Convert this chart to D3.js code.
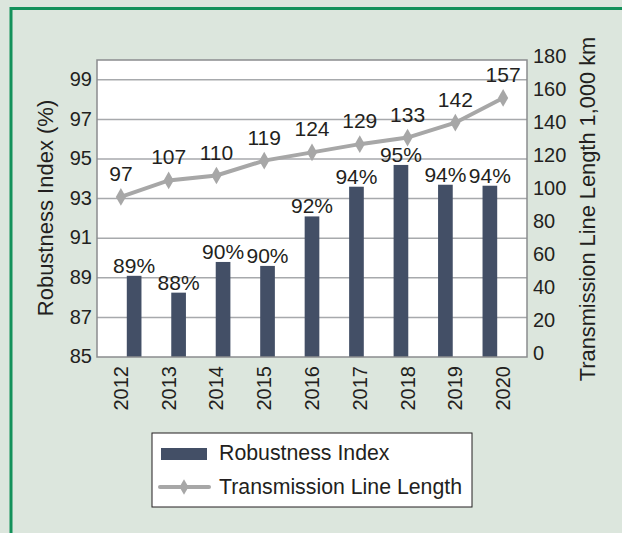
<!DOCTYPE html>
<html>
<head>
<meta charset="utf-8">
<script src="https://cdn.jsdelivr.net/npm/d3@7"></script>
<style>
  body { margin: 0; background: #dce6dd; }
  svg text { font-family: "Liberation Sans", Arial, sans-serif; fill: #231f20; }
</style>
</head>
<body>
<div id="chart"></div>
<script>
// Données
const years = ["2012", "2013", "2014", "2015", "2016", "2017", "2018", "2019", "2020"];
const robustness = [89.1, 88.25, 89.8, 89.6, 92.1, 93.6, 94.7, 93.7, 93.65];
const robustnessLabels = ["89%", "88%", "90%", "90%", "92%", "94%", "95%", "94%", "94%"];
const lineLength = [97, 107, 110, 119, 124, 129, 133, 142, 157];
const leftTicks = [85, 87, 89, 91, 93, 95, 97, 99];
const rightTicks = [0, 20, 40, 60, 80, 100, 120, 140, 160, 180];

const W = 622, H = 533;
const plot = { left: 97, right: 527, top: 60, bottom: 357 };
const tickSize = "20px";     // étiquettes des axes
const labelSize = "21px";    // étiquettes des valeurs
const titleSize = "21.8px";

const svg = d3.select("#chart").append("svg")
  .attr("width", W).attr("height", H);

// Fond et cadre vert
svg.append("rect").attr("width", W).attr("height", H).attr("fill", "#dce6dd");
svg.append("path")
  .attr("d", `M11,${H} L11,8.5 L${W},8.5`)
  .attr("fill", "none").attr("stroke", "#13915a").attr("stroke-width", 3);

// Échelles
const x = d3.scaleBand().domain(years).range([plot.left, plot.right]).padding(0.67);
const xPoint = d3.scaleBand().domain(years).range([plot.left, plot.right]);
const yLeft = d3.scaleLinear().domain([85, 100]).range([plot.bottom, plot.top]);
const yRight = d3.scaleLinear().domain([0, 180]).range([plot.bottom, plot.top]);

// Zone de tracé
svg.append("rect")
  .attr("x", plot.left).attr("y", plot.top)
  .attr("width", plot.right - plot.left).attr("height", plot.bottom - plot.top)
  .attr("fill", "#fff");

// Grille
svg.append("g").selectAll("line")
  .data(leftTicks.slice(1))
  .join("line")
  .attr("x1", plot.left).attr("x2", plot.right)
  .attr("y1", d => yLeft(d)).attr("y2", d => yLeft(d))
  .attr("stroke", "#a7a9ac").attr("stroke-width", 1.5);

// Barres
svg.append("g").selectAll("rect")
  .data(years)
  .join("rect")
  .attr("x", d => x(d))
  .attr("width", x.bandwidth())
  .attr("y", (d, i) => yLeft(robustness[i]))
  .attr("height", (d, i) => plot.bottom - yLeft(robustness[i]))
  .attr("fill", "#434f66");

// Étiquettes des barres
svg.append("g").selectAll("text")
  .data(years)
  .join("text")
  .attr("x", d => x(d) + x.bandwidth() / 2)
  .attr("y", (d, i) => yLeft(robustness[i]) - 3)
  .attr("text-anchor", "middle")
  .style("font-size", labelSize)
  .text((d, i) => robustnessLabels[i]);

// Ligne
const lineGen = d3.line()
  .x((d, i) => xPoint(years[i]) + xPoint.bandwidth() / 2)
  .y(d => yRight(d));

svg.append("path")
  .datum(lineLength)
  .attr("d", lineGen)
  .attr("fill", "none").attr("stroke", "#a7a7a7").attr("stroke-width", 4);

svg.append("g").selectAll("path")
  .data(lineLength)
  .join("path")
  .attr("d", d3.symbol(d3.symbolDiamond, 90))
  .attr("transform", (d, i) => `translate(${xPoint(years[i]) + xPoint.bandwidth() / 2},${yRight(d)})`)
  .attr("fill", "#a7a7a7");

svg.append("g").selectAll("text")
  .data(lineLength)
  .join("text")
  .attr("x", (d, i) => xPoint(years[i]) + xPoint.bandwidth() / 2)
  .attr("y", d => yRight(d) - 16)
  .attr("text-anchor", "middle")
  .style("font-size", labelSize)
  .text(d => d);

// Bordure du tracé
svg.append("rect")
  .attr("x", plot.left).attr("y", plot.top)
  .attr("width", plot.right - plot.left).attr("height", plot.bottom - plot.top)
  .attr("fill", "none").attr("stroke", "#8a8c8e").attr("stroke-width", 1.5);

// Axes
const axisLeft = svg.append("g")
  .attr("transform", `translate(${plot.left},0)`)
  .call(d3.axisLeft(yLeft).tickValues(leftTicks).tickSize(0).tickPadding(5));
const axisRight = svg.append("g")
  .attr("transform", `translate(${plot.right},0)`)
  .call(d3.axisRight(yRight).tickValues(rightTicks).tickSize(0).tickPadding(6));
const axisBottom = svg.append("g")
  .attr("transform", `translate(0,${plot.bottom})`)
  .call(d3.axisBottom(xPoint).tickSize(0).tickPadding(0));

[axisLeft, axisRight, axisBottom].forEach(g => {
  g.select(".domain").remove();
  g.selectAll("text").style("font-size", tickSize).attr("font-family", null);
});
axisLeft.selectAll("text").attr("dy", "0.28em");
axisRight.selectAll("text").attr("dy", "0.1em");
axisBottom.selectAll("text")
  .attr("transform", "rotate(-90)")
  .attr("text-anchor", "end")
  .attr("x", -9).attr("y", 0).attr("dy", "0.35em");

// Titres des axes
svg.append("text")
  .attr("transform", `translate(53,208) rotate(-90)`)
  .attr("text-anchor", "middle")
  .style("font-size", "22px")
  .text("Robustness Index  (%)");

svg.append("text")
  .attr("transform", `translate(595,209) rotate(-90)`)
  .attr("text-anchor", "middle")
  .style("font-size", titleSize)
  .text("Transmission Line Length 1,000 km");

// Légende
const legend = svg.append("g").attr("transform", "translate(152,433)");
legend.append("rect")
  .attr("width", 320).attr("height", 74)
  .attr("fill", "#fff").attr("stroke", "#231f20").attr("stroke-width", 1);
legend.append("rect")
  .attr("x", 9).attr("y", 15).attr("width", 46).attr("height", 12)
  .attr("fill", "#434f66");
legend.append("line")
  .attr("x1", 8).attr("x2", 57).attr("y1", 54).attr("y2", 54)
  .attr("stroke", "#a7a7a7").attr("stroke-width", 4).attr("stroke-linecap", "round");
legend.append("path")
  .attr("d", d3.symbol(d3.symbolDiamond, 70))
  .attr("transform", "translate(32,54)")
  .attr("fill", "#a7a7a7");
legend.append("text").attr("x", 67).attr("y", 27).style("font-size", "21.3px").text("Robustness Index");
legend.append("text").attr("x", 67).attr("y", 61).style("font-size", "21.3px").text("Transmission Line Length");
</script>
</body>
</html>
